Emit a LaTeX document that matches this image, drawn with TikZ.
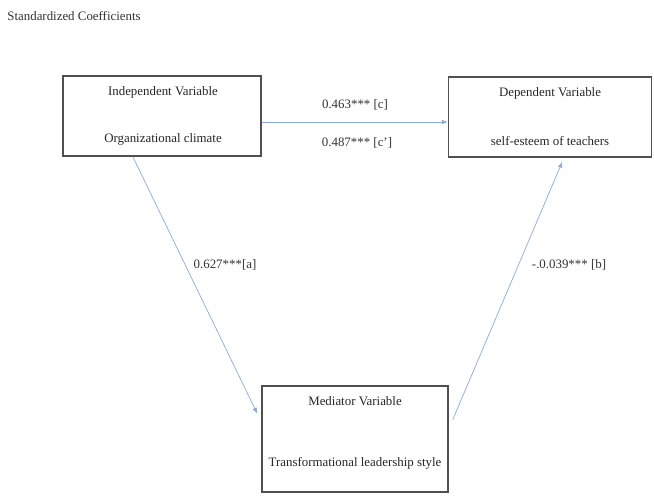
\documentclass[tikz,border=0pt]{standalone}
\usepackage{fontspec}
\setmainfont{Liberation Serif}
\usepackage{tikz}
\usetikzlibrary{arrows.meta,calc}

\definecolor{linkblue}{RGB}{140,170,215}
\definecolor{boxgray}{RGB}{80,80,80}

\tikzset{
    varbox/.style={draw=boxgray, line width=1.3pt, inner sep=0pt},
    vartext/.style={font=\fontsize{11}{13}\selectfont, inner sep=1pt, text=black!85},
    coef/.style={font=\fontsize{11}{13}\selectfont, inner sep=1pt, text=black!80},
    path/.style={draw=linkblue, line width=0.6pt, -{Latex[length=5pt,width=4pt]}}
}

\begin{document}
\begin{tikzpicture}[x=0.03cm, y=-0.03cm]
    \useasboundingbox (0,0) rectangle (654,497);
    \node[coef, anchor=west] (title) at (6,16) {Standardized Coefficients};

    % the three variable boxes
    \node[varbox, minimum width=198*0.03cm, minimum height=80*0.03cm] (indep) at (162,116) {};
    \node[varbox, minimum width=203*0.03cm, minimum height=80*0.03cm] (dep) at (550,117) {};
    \node[varbox, minimum width=186*0.03cm, minimum height=106*0.03cm] (med) at (355,439) {};

    \node[vartext] (indeptitle) at (163,92) {Independent Variable};
    \node[vartext] (indepname) at (163,139) {Organizational climate};
    \node[vartext] (deptitle) at (550,93) {Dependent Variable};
    \node[vartext] (depname) at (550,141) {self-esteem of teachers};
    \node[vartext] (medtitle) at (355,401) {Mediator Variable};
    \node[vartext] (medname) at (355,463) {Transformational leadership style};

    % paths
    \draw[path] ([yshift=-0.18cm]indep.east) -- ([yshift=-0.15cm]dep.west);
    \draw[path] ($(indep.south west)!0.354!(indep.south east)$) -- ($(med.north west)!0.264!(med.south west)+(-4,0)$);
    \draw[path] ($(med.north east)!0.32!(med.south east)+(4,0)$) -- ($(dep.south west)!0.56!(dep.south east)+(0,4)$);

    \node[coef] (c) at (355,105) {0.463*** [c]};
    \node[coef] (cprime) at (357,143) {0.487*** [c']};
    \node[coef] (a) at (225,265) {0.627***[a]};
    \node[coef] (b) at (569,265) {-.0.039*** [b]};
\end{tikzpicture}
\end{document}
